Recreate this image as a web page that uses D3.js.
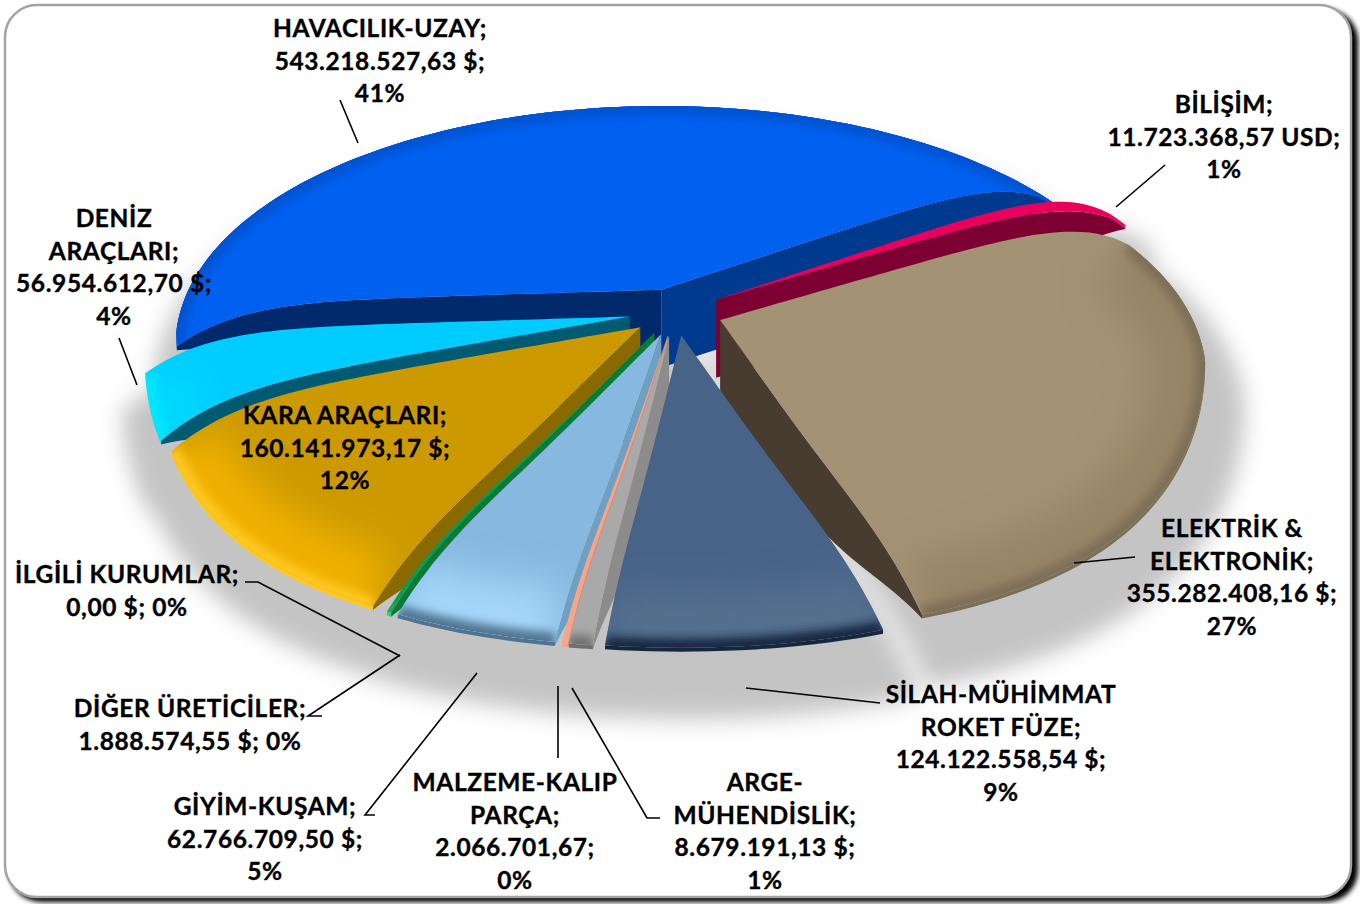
<!DOCTYPE html>
<html>
<head>
<meta charset="utf-8">
<script src="https://cdn.jsdelivr.net/npm/d3@7"></script>
<style>
  html, body { margin: 0; padding: 0; background: #fff; overflow: hidden; }
  svg { display: block; }
  .label { font-family: Lato, sans-serif; font-weight: 700; font-size: 24.5px; letter-spacing: 0.6px; fill: #000; stroke: #000; stroke-width: 0.35px; text-anchor: middle; }
</style>
</head>
<body>
<script>
// Values
var sectors = ["HAVACILIK-UZAY", "BİLİŞİM", "ELEKTRİK & ELEKTRONİK", "SİLAH-MÜHİMMAT ROKET FÜZE", "ARGE-MÜHENDİSLİK",
               "MALZEME-KALIP PARÇA", "GİYİM-KUŞAM", "DİĞER ÜRETİCİLER", "İLGİLİ KURUMLAR", "KARA ARAÇLARI", "DENİZ ARAÇLARI"];
var values = [543218527.63, 11723368.57, 355282408.16, 124122558.54, 8679191.13,
              2066701.67, 62766709.50, 1888574.55, 0, 160141973.17, 56954612.70];
var units = [" $;", " USD;", " $;", " $;", " $;", ";", " $;", " $;", " $;", " $;", " $;"];
var nameLines = [["HAVACILIK-UZAY;"], ["BİLİŞİM;"], ["ELEKTRİK &", "ELEKTRONİK;"], ["SİLAH-MÜHİMMAT", "ROKET FÜZE;"], ["ARGE-", "MÜHENDİSLİK;"],
                 ["MALZEME-KALIP", "PARÇA;"], ["GİYİM-KUŞAM;"], ["DİĞER ÜRETİCİLER;"], ["İLGİLİ KURUMLAR;"], ["KARA ARAÇLARI;"], ["DENİZ", "ARAÇLARI;"]];
var percentInline = [false, false, false, false, false, false, false, true, true, false, false];

// Styles, same order as the sectors
var topColors  = ["#0060f0", "#e8005c", "#a39273", "#476388", "#a9a9a9", "#f4a58a", "#86b8e0", "#0f9a4a", "#000", "#cc9a00", "#00ccff"];
var wallColors = ["#002a6c", "#7c0032", "#473c2f", "#2a3d58", "#8c8c8c", "#d98d74", "#6f9fc2", "#0a7a38", "#000", "#8a6a00", "#005a72"];
var wallEndColors = {0: "#003a8e"};
var wideColors = ["#0060f0", "#e8005c", "#968566", "#54708f", "#a9a9a9", "#f4a58a", "#a4d6fa", "#12a552", "#000", "#efb000", "#00d8ff"];
var edgeColors = ["#0052d0", "#e0106a", "#7d6e57", "#16263f", "#6f6f6f", "#f4a58a", "#4f7390", "#35d070", "#000", "#ffc820", "#00e8ff"];

// Label and leader placement
var labelPos = [[380, 37], [1224, 113], [1232, 537], [1001, 703], [765, 791], [515, 791], [265, 815], [190, 717], [127, 583], [345, 424], [114, 227]];
var lineGap = 32.6;
var leaders = [
  [[340, 100], [358, 143]],
  [[1165, 165], [1116, 207]],
  [[1135, 557], [1074, 563]],
  [[880, 703], [746, 688]],
  [[660, 818], [647, 818], [572, 688]],
  [[558, 758], [558, 686]],
  [[375, 815], [365, 815], [477, 673]],
  [[322, 716], [308, 716], [400, 655]],
  [[245, 582], [258, 582], [400, 656]],
  [[137, 385], [119, 338]]
];

var width = 1360, height = 904;
var centerX = 676, centerY = 312;
var radiusX = 485, radiusY = 246;
var explode = 47;
var perspective = 0.09, nearWiden = 0.2, farWiden = 0.06;
var droop = 42;
var wallDepth = 74, rimDepth = 4;

var svg = d3.select("body").append("svg").attr("width", width).attr("height", height);
var defs = svg.append("defs");
function blur(id, dev) {
  defs.append("filter").attr("id", id).attr("filterUnits", "userSpaceOnUse")
      .attr("x", -50).attr("y", -50).attr("width", width + 100).attr("height", height + 100)
    .append("feGaussianBlur").attr("stdDeviation", dev);
}
blur("blurFrame", 2.5);
blur("blurShadow", 11);
blur("blurWide", 18);
blur("blurEdge", 5);

// Frame
svg.append("rect").attr("x", 9).attr("y", 9).attr("width", 1349).attr("height", 893).attr("rx", 32)
   .attr("fill", "#000").attr("filter", "url(#blurFrame)");
svg.append("rect").attr("x", 5).attr("y", 5).attr("width", 1346).attr("height", 892).attr("rx", 32)
   .attr("fill", "#fff").attr("stroke", "#a3a3a3").attr("stroke-width", 2.5);

// Pie angles in degrees, the blue slice starts at the left and ends at 360
var firstAngle = 212.6;
var pie = d3.pie().sort(null).startAngle(firstAngle / 180 * Math.PI).endAngle((firstAngle + 360) / 180 * Math.PI);
var arcs = pie(values);
var toDeg = 180 / Math.PI;

// Pie angle to on-screen plane angle (foreshortening calibrated on the slice edges)
var viewAngle = d3.scaleLinear().domain([212.6, 360, 459.6, 493.3, 572.6]).range([176.6, 327, 430, 457.3, 536.6]);

var slices = arcs.map(function(d, i) {
  var phi0 = viewAngle(d.startAngle * toDeg), phi1 = viewAngle(d.endAngle * toDeg);
  var mid = viewAngle((d.startAngle + d.endAngle) / 2 * toDeg) / toDeg;
  return {
    i: i, phi0: phi0, phi1: phi1,
    ax: centerX + explode * Math.cos(mid),
    ay: centerY + explode * 0.5 * Math.sin(mid)
  };
});

function project(s, phiDeg, r, z) {
  var phi = phiDeg / toDeg;
  var X = r * Math.cos(phi), Y = r * Math.sin(phi);
  var k = 1 / (1 - perspective * Y);
  var kx = Y > 0 ? 1 / (1 - nearWiden * Y * Y) : 1 / (1 - farWiden * Y);
  return [s.ax + radiusX * X * kx, s.ay + radiusY * Y * k + droop * Math.pow(r, 8) + (z || 0)];
}
function wallHeight(r) { return rimDepth + wallDepth * (1 - Math.pow(r, 4)); }

var line = d3.line();
var radii = d3.range(0, 1.0001, 0.02);
function arcAngles(s) {
  var n = Math.max(4, Math.ceil((s.phi1 - s.phi0) / 1.5));
  return d3.range(n + 1).map(function(j) { return s.phi0 + (s.phi1 - s.phi0) * j / n; });
}
function rimPoints(s, z) { return arcAngles(s).map(function(p) { return project(s, p, 1, z); }); }
function topOutline(s) {
  var a = radii.map(function(r) { return project(s, s.phi0, r); });
  var b = rimPoints(s);
  var c = radii.slice().reverse().map(function(r) { return project(s, s.phi1, r); });
  return line(a.concat(b, c)) + "Z";
}
function wallPath(s, phi) {
  var t = radii.map(function(r) { return project(s, phi, r); });
  var b = radii.slice().reverse().map(function(r) { return project(s, phi, r, wallHeight(r)); });
  return line(t.concat(b)) + "Z";
}
function rimBand(s) {
  return line(rimPoints(s).concat(rimPoints(s, rimDepth).reverse())) + "Z";
}

var visible = slices.filter(function(s) { return values[s.i] > 0; });

// Ground shadow
svg.append("g").attr("filter", "url(#blurShadow)")
   .attr("transform", "translate(-12,30) scale(1.03,1.04)")
  .selectAll("path").data(visible).join("path")
   .attr("d", topOutline).attr("fill", "#c4c4c4").attr("stroke", "#c4c4c4").attr("stroke-width", 30);

// Far slices first, then round the near side towards the slate slice
var drawOrder = [0, 1, 2, 10, 9, 7, 6, 5, 4, 3];
drawOrder.forEach(function(idx) {
  var s = slices[idx];
  var g = svg.append("g");
  var clipId = "clip" + idx;
  defs.append("clipPath").attr("id", clipId).append("path").attr("d", topOutline(s));

  // Radial walls that face the viewer
  if (Math.cos(s.phi0 / toDeg) < 0)
    g.append("path").attr("d", wallPath(s, s.phi0)).attr("fill", wallColors[idx]);
  if (Math.cos(s.phi1 / toDeg) > 0)
    g.append("path").attr("d", wallPath(s, s.phi1)).attr("fill", wallEndColors[idx] || wallColors[idx]);
  g.append("path").attr("d", rimBand(s)).attr("fill", edgeColors[idx]);

  // Top surface with the bevel shading along the rim
  g.append("path").attr("d", topOutline(s)).attr("fill", topColors[idx]);
  var shade = g.append("g").attr("clip-path", "url(#" + clipId + ")");
  var rim = line(rimPoints(s));
  shade.append("path").attr("d", rim).attr("fill", "none").attr("stroke", wideColors[idx])
       .attr("stroke-width", 110).attr("filter", "url(#blurWide)");
  shade.append("path").attr("d", rim).attr("fill", "none").attr("stroke", edgeColors[idx])
       .attr("stroke-width", 18).attr("filter", "url(#blurEdge)");
});

// Leaders
svg.append("g").selectAll("path").data(leaders).join("path")
   .attr("d", line).attr("fill", "none").attr("stroke", "#000").attr("stroke-width", 1.6);

// Labels
var total = d3.sum(values);
var trFormat = d3.formatLocale({decimal: ",", thousands: ".", grouping: [3], currency: ["", " $"]}).format(",.2f");
function labelLines(i) {
  var amount = trFormat(values[i]) + units[i];
  var pct = Math.round(values[i] / total * 100) + "%";
  return percentInline[i] ? nameLines[i].concat([amount + " " + pct]) : nameLines[i].concat([amount, pct]);
}
var labels = svg.append("g").selectAll("text").data(sectors).join("text")
   .attr("class", "label")
   .attr("x", function(d, i) { return labelPos[i][0]; })
   .attr("y", function(d, i) { return labelPos[i][1]; });
labels.each(function(d, i) {
  d3.select(this).selectAll("tspan").data(labelLines(i)).join("tspan")
    .attr("x", labelPos[i][0])
    .attr("y", function(t, j) { return labelPos[i][1] + j * lineGap; })
    .text(function(t) { return t; });
});
</script>
</body>
</html>
